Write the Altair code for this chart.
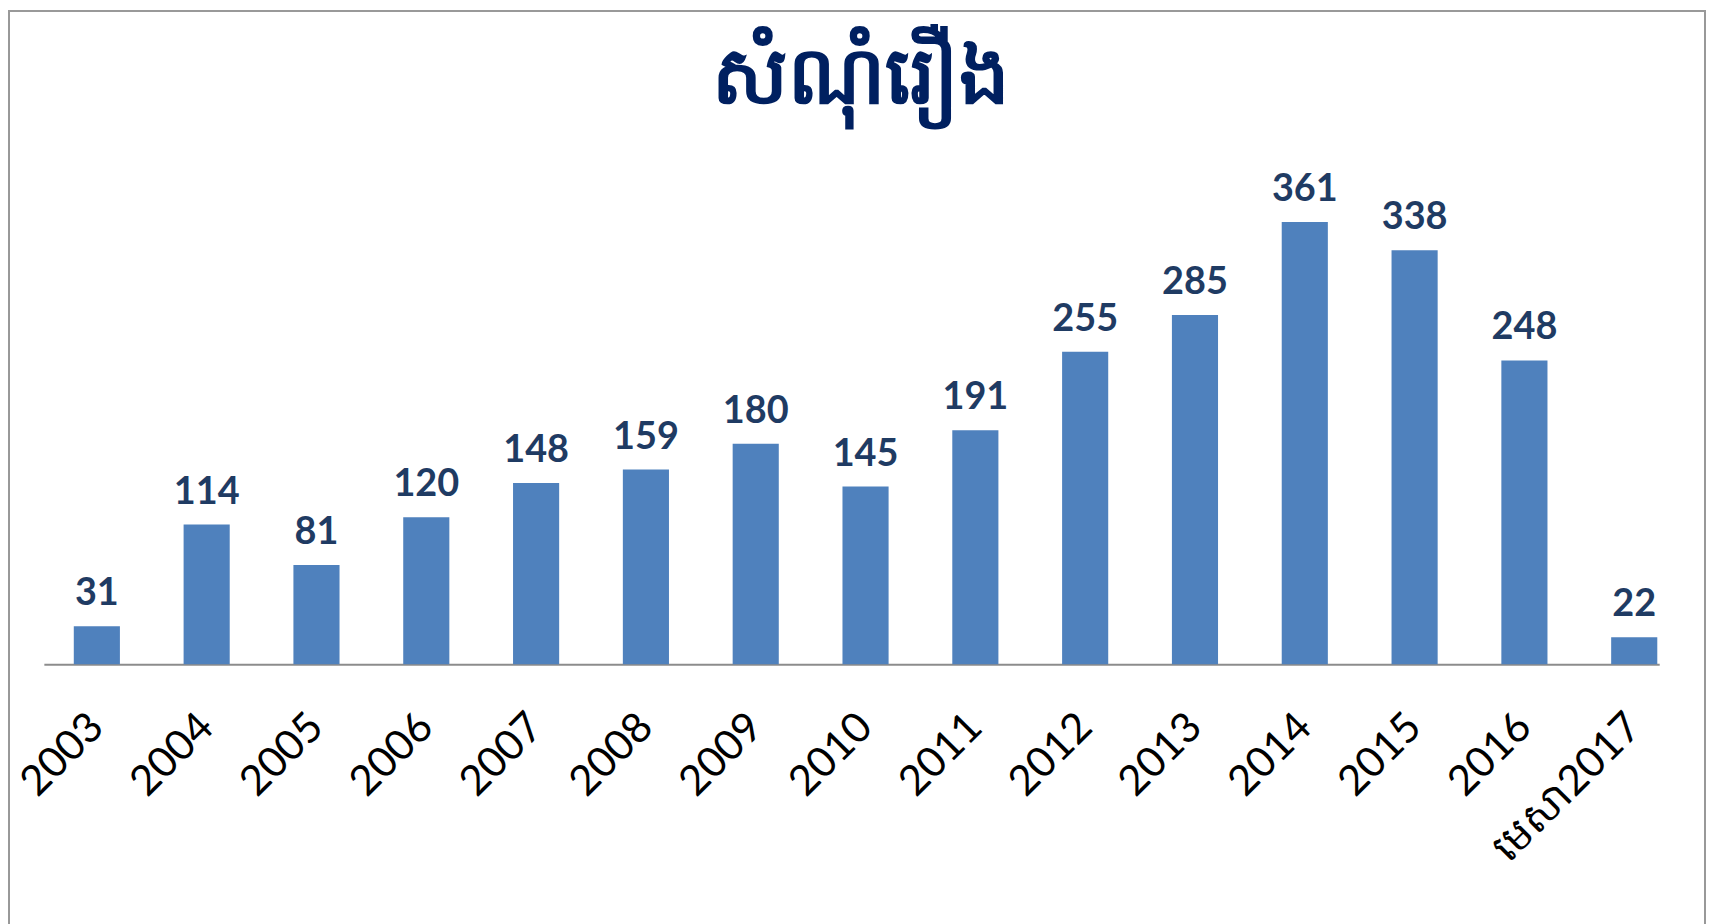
import altair as alt
import pandas as pd

categories = ["2003", "2004", "2005", "2006", "2007", "2008", "2009", "2010",
              "2011", "2012", "2013", "2014", "2015", "2016", "មេសា2017"]
values = [31, 114, 81, 120, 148, 159, 180, 145, 191, 255, 285, 361, 338, 248, 22]
title_text = "សំណុំរឿង"

df = pd.DataFrame({"year": categories, "cases": values})

W, H = 1622, 492

x = alt.X("year:N", sort=categories, title=None,
          scale=alt.Scale(paddingInner=0.58, paddingOuter=0.145, align=0.94),
          axis=alt.Axis(labelAngle=-45, labelAlign="right", labelBaseline="middle",
                        labelFont="Lato", labelFontSize=42, labelColor="#000000",
                        labelPadding=56, ticks=False, domainColor="#8c8c8c",
                        domainWidth=2, labelLimit=400))
y = alt.Y("cases:Q", scale=alt.Scale(domain=[0, 400]), axis=None)

bars = alt.Chart(df).mark_bar(color="#4F81BD").encode(x=x, y=y)
text = alt.Chart(df).mark_text(dy=-13, baseline="bottom", font="Lato", fontWeight="bold",
                               fontSize=38, color="#1F3B63").encode(
    x=alt.X("year:N", sort=categories), y=y, text="cases:Q")

border = alt.Chart(df).mark_rect(fill=None, stroke="#999999", strokeWidth=2).encode(
    x=alt.value(-35), x2=alt.value(W + 46), y=alt.value(-164), y2=alt.value(H + 320))

title = alt.Chart(pd.DataFrame({"t": [title_text]})).mark_text(
    fontSize=80, fontWeight="bold", color="#002060", baseline="middle", align="center"
).encode(x=alt.value(W / 2 + 10), y=alt.value(-95), text="t:N")

chart = alt.layer(border, bars, text, title).properties(
    width=W, height=H,
    autosize=alt.AutoSizeParams(type="none"),
    padding={"left": 36, "top": 165, "right": 48, "bottom": 259},
).configure_view(stroke=None)

chart.save("out.html", embed_options={"renderer": "svg", "actions": False})
